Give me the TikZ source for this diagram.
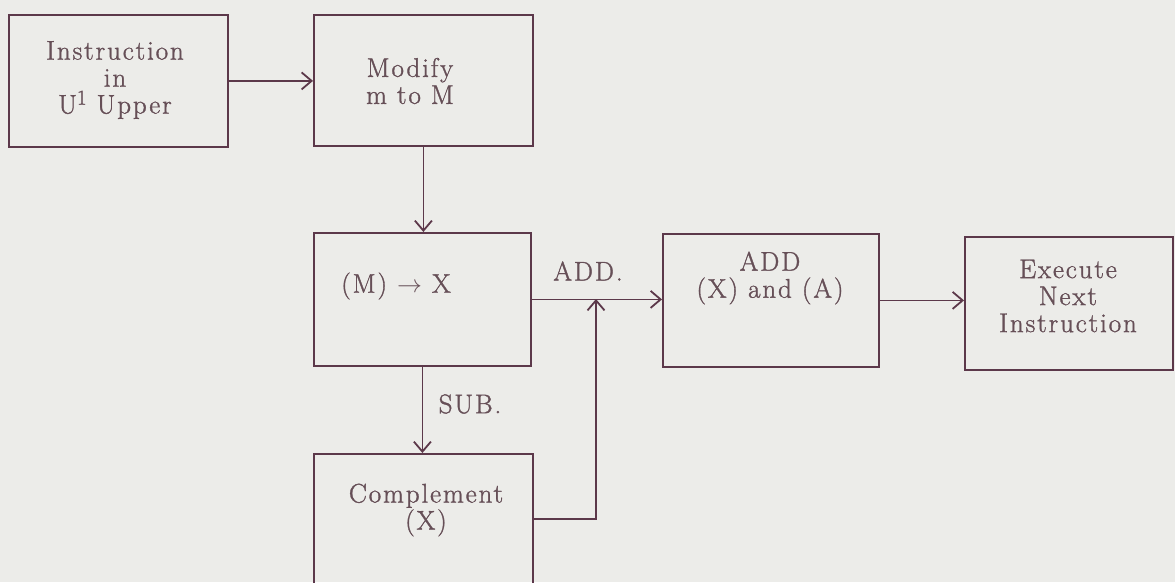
\documentclass[tikz,border=0pt]{standalone}
\usepackage{fontspec}
\setmainfont{Latin Modern Roman}[LetterSpace=7,FakeBold=1.2]
\usetikzlibrary{arrows.meta}
\newlength{\du}
\setlength{\du}{1pt}
\definecolor{papercolor}{rgb}{0.925,0.925,0.912}
\definecolor{inkcolor}{rgb}{0.36,0.22,0.29}
\definecolor{typecolor}{rgb}{0.40,0.31,0.34}
\tikzset{
  flowbox/.style={draw=inkcolor, line width=1.8\du, inner sep=0pt, anchor=north west},
  flowtext/.style={text=typecolor, font=\fontsize{27}{27}\selectfont, align=center, inner sep=0pt},
  flowline/.style={draw=inkcolor, line width=1.8\du},
  flowarrow/.style={flowline, -{Straight Barb[length=10pt,width=17pt]}}
}
\newcommand{\upone}{\raisebox{9pt}{\fontsize{21}{21}\selectfont 1}}

\begin{document}
\begin{tikzpicture}
\pgftransformxscale{1.000000}
\pgftransformyscale{-1.000000}
\fill[papercolor] (0\du,0\du) rectangle (1175\du,582\du);
% boxes
\node[flowbox, minimum width=219\du, minimum height=132\du] (instr) at (8\du,14\du) {};
\node[flowbox, minimum width=219\du, minimum height=131\du] (modify) at (313\du,14\du) {};
\node[flowbox, minimum width=217\du, minimum height=133\du] (move) at (313\du,232\du) {};
\node[flowbox, minimum width=216\du, minimum height=133\du] (add) at (662\du,233\du) {};
\node[flowbox, minimum width=208\du, minimum height=133\du] (exec) at (964\du,236\du) {};
\node[flowbox, minimum width=219\du, minimum height=160\du] (compl) at (313\du,453\du) {};
% texts
\node[flowtext] (instrtext) at (115\du,80\du) {Instruction\\in\\U\upone{} Upper};
\node[flowtext] (modifytext) at (410\du,81\du) {Modify\\m to M};
\node[flowtext] (movetext) at (396\du,286\du) {(M) $\rightarrow$ X};
\node[flowtext] (addtext) at (770\du,278\du) {ADD\\(X) and (A)};
\node[flowtext] (exectext) at (1068\du,296\du) {Execute\\Next\\Instruction};
\node[flowtext] (compltext) at (426\du,510\du) {Complement\\(X)};
\node[flowtext] (addlabel) at (588\du,271\du) {ADD.};
\node[flowtext] (sublabel) at (470\du,404\du) {SUB.};
% connectors
\coordinate (merge) at (596\du,299\du);
\coordinate (subout) at (532\du,519\du);
\draw[flowarrow] (instr.east) -- (instr.east -| modify.west);
\draw[flowarrow] (modify.south) -- (modify.south |- move.north);
\draw[flowarrow] (move.east) -- (move.east -| add.west);
\draw[flowarrow] (move.south) -- (move.south |- compl.north);
\draw[flowarrow] (subout) -| (merge);
\draw[flowarrow] (add.east) -- (add.east -| exec.west);
\pgfresetboundingbox
\useasboundingbox (0\du,0\du) rectangle (1175\du,582\du);
\end{tikzpicture}
\end{document}
